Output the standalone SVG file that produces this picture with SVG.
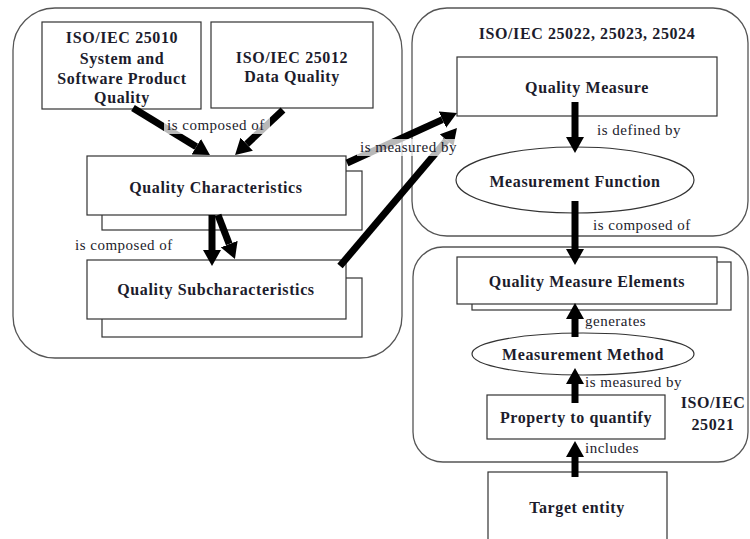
<svg xmlns="http://www.w3.org/2000/svg" width="750" height="539" viewBox="0 0 750 539">
<style>
.cont{fill:#fff;stroke:#555;stroke-width:1.3}
.box{fill:#fff;stroke:#333;stroke-width:1.2}
.t{font-family:"Liberation Serif",serif;font-weight:bold;font-size:16px;letter-spacing:0.6px;fill:#1c1c2c;text-anchor:middle}
.l{font-family:"Liberation Serif",serif;font-size:15px;letter-spacing:0.5px;fill:#1c1c2c}
.a{stroke:#000;stroke-width:7;fill:none;marker-end:url(#ah)}
.bg{fill:#fff;opacity:0.72}
</style>
<defs>
<marker id="ah" markerUnits="userSpaceOnUse" viewBox="0 -9 16 18" refX="0" refY="0" markerWidth="16" markerHeight="18" orient="auto">
<path d="M0,-9 L16,0 L0,9 z" fill="#000"/>
</marker>
</defs>
<rect width="750" height="539" fill="#fff"/>
<g id="left-container"><rect class="cont" x="13" y="8" width="389" height="350" rx="42"/></g>
<g id="right-top-container"><rect class="cont" x="412" y="8" width="336" height="228" rx="35"/>
<text class="t" x="587" y="39">ISO/IEC 25022, 25023, 25024</text></g>
<g id="right-bottom-container"><rect class="cont" x="413" y="247" width="335" height="215" rx="30"/>
<text class="t" x="713" y="408">ISO/IEC</text><text class="t" x="713" y="430">25021</text></g>
<g id="iso25010"><rect class="box" x="42" y="22" width="159" height="87"/>
<text class="t" x="122" y="43">ISO/IEC 25010</text>
<text class="t" x="122" y="64">System and</text>
<text class="t" x="122" y="84">Software Product</text>
<text class="t" x="122" y="103">Quality</text></g>
<g id="iso25012"><rect class="box" x="211" y="22" width="162" height="86"/>
<text class="t" x="292" y="63">ISO/IEC 25012</text>
<text class="t" x="292" y="82">Data Quality</text></g>
<g id="quality-characteristics"><rect class="box" x="102" y="171" width="260" height="59"/><rect class="box" x="87" y="156" width="259" height="59"/>
<text class="t" x="216" y="193">Quality Characteristics</text></g>
<g id="quality-subcharacteristics"><rect class="box" x="102" y="278" width="260" height="59"/><rect class="box" x="87" y="260" width="259" height="59"/>
<text class="t" x="216" y="295">Quality Subcharacteristics</text></g>
<g id="quality-measure"><rect class="box" x="457" y="57" width="260" height="59"/>
<text class="t" x="587" y="93">Quality Measure</text></g>
<g id="measurement-function"><ellipse class="box" cx="575" cy="180" rx="119" ry="33"/>
<text class="t" x="575" y="187">Measurement Function</text></g>
<g id="quality-measure-elements"><rect class="box" x="472" y="262" width="259" height="48"/><rect class="box" x="457" y="257" width="260" height="47"/>
<text class="t" x="587" y="287">Quality Measure Elements</text></g>
<g id="measurement-method"><ellipse class="box" cx="583" cy="354" rx="111" ry="21"/>
<text class="t" x="583" y="360">Measurement Method</text></g>
<g id="property"><rect class="box" x="487" y="395" width="178" height="44"/>
<text class="t" x="576" y="423">Property to quantify</text></g>
<g id="target-entity"><rect class="box" x="488" y="472" width="179" height="80"/>
<text class="t" x="577" y="513">Target entity</text></g>
<g id="connectors">
<line class="a" x1="133" y1="108" x2="196.3" y2="146.7"/>
<line class="a" x1="283" y1="110" x2="246.7" y2="144.1"/>
<line class="a" x1="212" y1="215" x2="212" y2="250"/>
<line class="a" x1="218" y1="215" x2="229.2" y2="244.1"/>
<line class="a" x1="347" y1="163" x2="442.4" y2="119.6"/>
<line class="a" x1="340" y1="266" x2="446.6" y2="140.2"/>
<line class="a" x1="575" y1="102" x2="575" y2="137"/>
<line class="a" x1="575" y1="201" x2="575" y2="249"/>
<line class="a" x1="575" y1="337" x2="575" y2="319"/>
<line class="a" x1="575" y1="403" x2="575" y2="384"/>
<line class="a" x1="575" y1="477" x2="575" y2="457"/>
<rect class="bg" x="164" y="117" width="106" height="17"/>
<text class="l" x="167" y="130">is composed of</text>
<rect class="bg" x="357" y="139" width="104" height="17"/>
<text class="l" x="360" y="152">is measured by</text>
<text class="l" x="75" y="250">is composed of</text>
<text class="l" x="597" y="135">is defined by</text>
<text class="l" x="593" y="230">is composed of</text>
<text class="l" x="585" y="326">generates</text>
<text class="l" x="585" y="387">is measured by</text>
<text class="l" x="585" y="453">includes</text>
</g>
</svg>
